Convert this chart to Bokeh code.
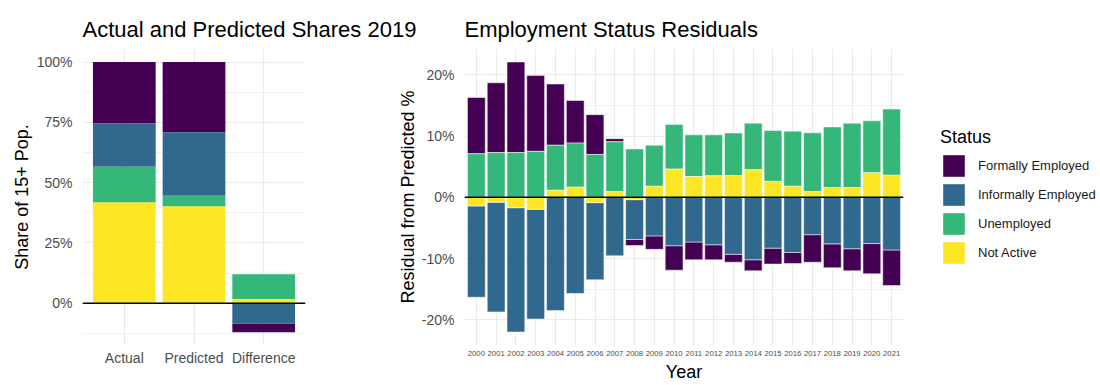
from bokeh.plotting import figure
from bokeh.models import (ColumnDataSource, FactorRange, Range1d, FixedTicker, PrintfTickFormatter,
                          Span, Legend, LegendItem)
from bokeh.layouts import row
from bokeh.embed import file_html
from bokeh.resources import INLINE

FONT = "Liberation Sans"

# ---------------- data ----------------
statuses = ["Formally Employed", "Informally Employed", "Unemployed", "Not Active"]
colors = {"Formally Employed": "#440154", "Informally Employed": "#31688E",
          "Unemployed": "#35B779", "Not Active": "#FDE725"}

share_cats = ["Actual", "Predicted", "Difference"]
actual_2019 = {"Formally Employed": 25.5, "Informally Employed": 17.9,
               "Unemployed": 14.8, "Not Active": 41.8}
predicted_2019 = {"Formally Employed": 29.1, "Informally Employed": 26.3,
                  "Unemployed": 4.5, "Not Active": 40.1}

years = ["2000", "2001", "2002", "2003", "2004", "2005", "2006", "2007", "2008", "2009", "2010",
         "2011", "2012", "2013", "2014", "2015", "2016", "2017", "2018", "2019", "2020", "2021"]
resid_formal = [9.2, 11.4, 14.8, 12.4, 10.0, 6.95, 6.5, 0.5, -1.0, -2.2, -4.0,
                -2.9, -2.45, -1.3, -1.8, -2.6, -1.8, -4.5, -3.9, -3.6, -4.95, -5.8]
resid_informal = [-14.9, -17.9, -20.3, -17.9, -18.5, -15.7, -12.6, -9.56, -6.5, -6.3, -7.9,
                  -7.3, -7.75, -9.3, -10.2, -8.3, -9.0, -6.1, -7.6, -8.4, -7.55, -8.6]
resid_unemployed = [7.1, 7.3, 7.3, 7.5, 7.35, 7.2, 7.0, 8.14, 7.9, 6.7, 7.3,
                    6.8, 6.7, 6.95, 7.6, 8.3, 9.0, 9.6, 9.9, 10.5, 8.5, 10.8]
resid_not_active = [-1.42, -0.82, -1.7, -1.97, 1.15, 1.65, -0.87, 0.93, -0.38, 1.8, 4.6,
                    3.4, 3.5, 3.55, 4.5, 2.6, 1.8, 0.93, 1.6, 1.6, 4.0, 3.6]
residuals = {"Formally Employed": resid_formal, "Informally Employed": resid_informal,
             "Unemployed": resid_unemployed, "Not Active": resid_not_active}

share_values = {s: [actual_2019[s], predicted_2019[s], actual_2019[s] - predicted_2019[s]]
                for s in statuses}

STACK_ORDER = ["Not Active", "Unemployed", "Informally Employed", "Formally Employed"]


def stack(values_by_status, n):
    pos = [0.0] * n
    neg = [0.0] * n
    out = {}
    for s in STACK_ORDER:
        tops, bots = [], []
        for i, v in enumerate(values_by_status[s]):
            if v >= 0:
                bots.append(pos[i]); tops.append(pos[i] + v); pos[i] += v
            else:
                tops.append(neg[i]); bots.append(neg[i] + v); neg[i] += v
        out[s] = (bots, tops)
    return out


GRID = "#EBEBEB"
TICK_COLOR = "#4D4D4D"


def style(p, ticks, minor):
    p.outline_line_color = None
    p.background_fill_color = "white"
    p.title.text_font = FONT
    p.title.text_font_size = "22px"
    p.title.text_font_style = "normal"
    p.title.text_color = "black"
    p.title.align = "left"
    p.title.standoff = 13
    for ax in (p.xaxis[0], p.yaxis[0]):
        ax.axis_line_color = None
        ax.major_tick_line_color = None
        ax.minor_tick_line_color = None
        ax.major_tick_out = 0
        ax.major_tick_in = 0
        ax.major_label_text_font = FONT
        ax.major_label_text_color = TICK_COLOR
        ax.major_label_text_font_size = "14px"
        ax.axis_label_text_font = FONT
        ax.axis_label_text_font_size = "18px"
        ax.axis_label_text_font_style = "normal"
        ax.axis_label_text_color = "black"
    p.yaxis[0].major_label_standoff = 6
    p.yaxis[0].axis_label_standoff = 2
    p.yaxis[0].ticker = FixedTicker(ticks=ticks, minor_ticks=minor)
    p.yaxis[0].formatter = PrintfTickFormatter(format="%d%%")
    p.xaxis[0].major_label_standoff = 4
    p.xgrid.grid_line_color = GRID
    p.xgrid.grid_line_width = 1.2
    p.ygrid.grid_line_color = GRID
    p.ygrid.grid_line_width = 1.2
    p.ygrid.minor_grid_line_color = GRID
    p.ygrid.minor_grid_line_width = 0.7
    p.add_layout(Span(location=0, dimension="width", line_color="black", line_width=1.4))


# ---------------- left panel ----------------
p1 = figure(width=420, height=385, output_backend="svg", toolbar_location=None,
            x_range=FactorRange(factors=share_cats, range_padding=0.1, range_padding_units="absolute"),
            y_range=Range1d(-17.5, 105.6),
            title="Actual and Predicted Shares 2019",
            min_border_left=82, min_border_right=115, min_border_top=48, min_border_bottom=40)
p1.border_fill_color = "white"
st1 = stack(share_values, len(share_cats))
for s in statuses:
    b, t = st1[s]
    src = ColumnDataSource(dict(x=share_cats, bottom=b, top=t))
    p1.vbar(x="x", bottom="bottom", top="top", width=0.9, source=src,
            fill_color=colors[s], line_color=None)
p1.yaxis.axis_label = "Share of 15+ Pop."
style(p1, [0, 25, 50, 75, 100], [-12.5, 12.5, 37.5, 62.5, 87.5])

# ---------------- right panel ----------------
p2 = figure(width=600, height=385, output_backend="svg", toolbar_location=None,
            x_range=FactorRange(factors=years, range_padding=0.1, range_padding_units="absolute"),
            y_range=Range1d(-24.2, 24.3),
            title="Employment Status Residuals",
            min_border_left=124, min_border_right=37, min_border_top=48, min_border_bottom=40)
p2.border_fill_color = None
p2.margin = (0, 0, 0, -80)
st2 = stack(residuals, len(years))
sources = {}
for s in statuses:
    b, t = st2[s]
    sources[s] = ColumnDataSource(dict(x=years, bottom=b, top=t))
    p2.vbar(x="x", bottom="bottom", top="top", width=0.9, source=sources[s],
            fill_color=colors[s], line_color="white", line_width=0.5)
p2.yaxis.axis_label = "Residual from Predicted %"
p2.xaxis.axis_label = "Year"
style(p2, [-20, -10, 0, 10, 20], [-15, -5, 5, 15])
p2.yaxis[0].axis_label_standoff = 1
p2.xaxis[0].major_label_text_font_size = "7.7px"
p2.xaxis[0].major_label_standoff = 5
p2.xaxis[0].axis_label_standoff = 3

# ---------------- legend panel (keys reuse the residual data; zero-width, out of view) ----------------
p3 = figure(width=160, height=385, output_backend="svg", toolbar_location=None,
            x_range=p2.x_range, y_range=Range1d(100, 101),
            x_axis_location=None, y_axis_location=None, min_border=0)
p3.outline_line_color = None
p3.grid.visible = False
p3.border_fill_color = "white"
p3.background_fill_color = "white"
key_renderers = {}
for s in statuses:
    key_renderers[s] = p3.vbar(x="x", bottom="bottom", top="top", width=0, source=sources[s],
                               fill_color=colors[s], line_color=None)

legend = Legend(items=[LegendItem(label=s, renderers=[key_renderers[s]]) for s in statuses],
                location=(0, 79), title="Status")
legend.title_text_font = FONT
legend.title_text_font_size = "18px"
legend.title_text_font_style = "normal"
legend.title_text_color = "black"
legend.title_standoff = 4
legend.label_text_font = FONT
legend.label_text_font_size = "13px"
legend.label_text_color = "#1A1A1A"
legend.glyph_width = 27
legend.glyph_height = 27
legend.spacing = 2
legend.label_standoff = 11
legend.padding = 0
legend.margin = 0
legend.border_line_color = None
legend.background_fill_alpha = 0
p3.add_layout(legend, "center")

layout = row(p1, p2, p3)
open("out.html", "w").write(file_html(layout, INLINE))
